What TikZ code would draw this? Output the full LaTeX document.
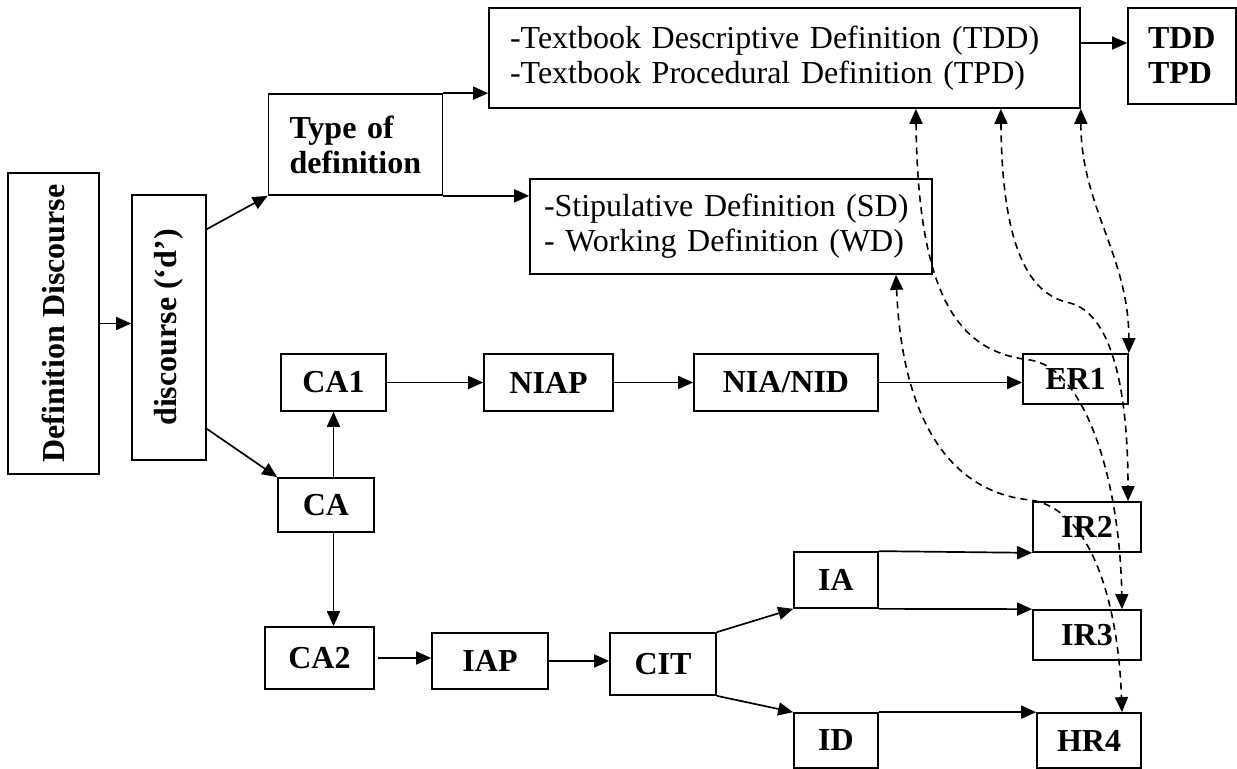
\documentclass[tikz,border=0pt]{standalone}
\usepackage{fontspec}
\setmainfont{Liberation Serif}
\usepackage{graphicx}
\usetikzlibrary{arrows.meta}

\tikzset{
  every node/.style={font=\fontsize{16}{17.5}\selectfont},
  box/.style={draw, line width=0.85pt, inner sep=0pt, font=\fontsize{16}{17.5}\selectfont\bfseries},
  listbox/.style={draw, line width=0.85pt, inner ysep=0pt, align=left},
  link/.style={line width=0.85pt, -{Triangle[length=7.5pt,width=6.5pt]}},
  dlink/.style={line width=0.8pt, dash pattern=on 3.5pt off 2.5pt,
    {Triangle[length=7.5pt,width=6.5pt]}-{Triangle[length=7.5pt,width=6.5pt]}}
}

\begin{document}
\begin{tikzpicture}[x=0.5pt,y=-0.5pt]
    \useasboundingbox (0,0) rectangle (1237,769);

    % left column
    \node[box, minimum width=45.5pt, minimum height=150.5pt] (defdisc) at (53.5,323.5)
        {\rotatebox{90}{Definition Discourse}\hspace{6pt}};
    \node[box, minimum width=37pt, minimum height=132.5pt] (disc) at (169,327.5)
        {\rotatebox{90}{discourse (‘d’)}};

    % type of definition
    \node[box, align=left, text width=66pt, inner xsep=10.5pt, minimum height=50.5pt] (typedef) at (355.5,144.5) {Type of\\definition};
    \node[listbox, text width=274.5pt, inner xsep=10.5pt, minimum height=50pt] (tbook) at (784.5,58)
        {-Textbook Descriptive Definition (TDD)\\-Textbook Procedural Definition (TPD)};
    \node[box, align=left, text width=34pt, inner xsep=10pt, minimum height=48pt] (tshort) at (1182,56) {TDD\\TPD};
    \node[listbox, text width=187pt, inner xsep=7pt, minimum height=47.5pt] (stip) at (731,226.5)
        {-Stipulative Definition (SD)\\- Working Definition (WD)};

    % CA1 row
    \node[box, minimum width=52.5pt, minimum height=28.5pt] (ca1) at (333.5,382.5) {CA1};
    \node[box, minimum width=64.5pt, minimum height=28.5pt] (niap) at (548.5,382.5) {NIAP};
    \node[box, minimum width=92pt, minimum height=28.5pt] (niad) at (786,382.5) {NIA/NID};
    \node[box, minimum width=52.5pt, minimum height=25pt] (er1) at (1075.5,379) {ER1};

    % CA and CA2 row
    \node[box, minimum width=48pt, minimum height=27pt] (ca) at (326,505) {CA};
    \node[box, minimum width=54.5pt, minimum height=31pt] (ca2) at (319.5,658) {CA2};
    \node[box, minimum width=58pt, minimum height=28pt] (iap) at (490,661) {IAP};
    \node[box, minimum width=53pt, minimum height=31pt] (cit) at (663,664) {CIT};
    \node[box, minimum width=42pt, minimum height=28pt] (ia) at (836,580) {IA};
    \node[box, minimum width=42pt, minimum height=27.5pt] (id) at (836,740.5) {ID};
    \node[box, minimum width=54pt, minimum height=25pt] (ir2) at (1087,527) {IR2};
    \node[box, minimum width=54pt, minimum height=25pt] (ir3) at (1087,635) {IR3};
    \node[box, minimum width=52pt, minimum height=27.5pt] (hr4) at (1089,740.5) {HR4};

    % solid arrows
    \draw[link] (defdisc.east) -- (defdisc.east -| disc.west);
    \draw[link] ([yshift=-17.5pt]disc.north east) -- (typedef.south west);
    \draw[link] ([yshift=16pt]disc.south east) -- (ca.north west);
    \draw[link] (typedef.north east) -- (typedef.north east -| tbook.west);
    \draw[link] (typedef.south east) -- (typedef.south east -| stip.west);
    \draw[link] ([yshift=7.5pt]tbook.east) -- ([yshift=7.5pt]tbook.east -| tshort.west);
    \draw[link] (ca.north -| ca1.south) -- (ca1.south);
    \draw[link] (ca.south -| ca1.south) -- (ca2.north -| ca1.south);
    \draw[link] (ca1.east) -- (niap.west);
    \draw[link] (niap.east) -- (niad.west);
    \draw[link] (niad.east) -- (niad.east -| er1.west);
    \draw[link, shorten <=1.5pt] (ca2.east) -- (ca2.east -| iap.west);
    \draw[link] (iap.east) -- (iap.east -| cit.west);
    \draw[link] (cit.north east) -- (ia.south west);
    \draw[link] (cit.south east) -- (id.north west);
    \draw[link] (ia.north east) -- (ir2.south west);
    \draw[link] (ia.south east) -- (ir3.north west);
    \draw[link] (id.north east) -- (hr4.north west);

    % dashed links
    \draw[dlink] (tbook.south east) to[out=-90,in=90] (er1.north east);
    \draw[dlink] ([xshift=-40pt]tbook.south east) .. controls (1002,250) and (1030,295) .. (1070,303)
        .. controls (1115,315) and (1128,400) .. ([xshift=20.5pt]ir2.north);
    \draw[dlink] ([xshift=-82.5pt]tbook.south east) .. controls (918,300) and (960,352) .. (1030,360)
        .. controls (1085,368) and (1120,480) .. ([xshift=17.5pt]ir3.north);
    \draw[dlink] ([xshift=82.5pt]stip.south) .. controls (902,420) and (950,492) .. (1030,500)
        .. controls (1090,508) and (1118,600) .. ([xshift=16.5pt]hr4.north);
\end{tikzpicture}
\end{document}
